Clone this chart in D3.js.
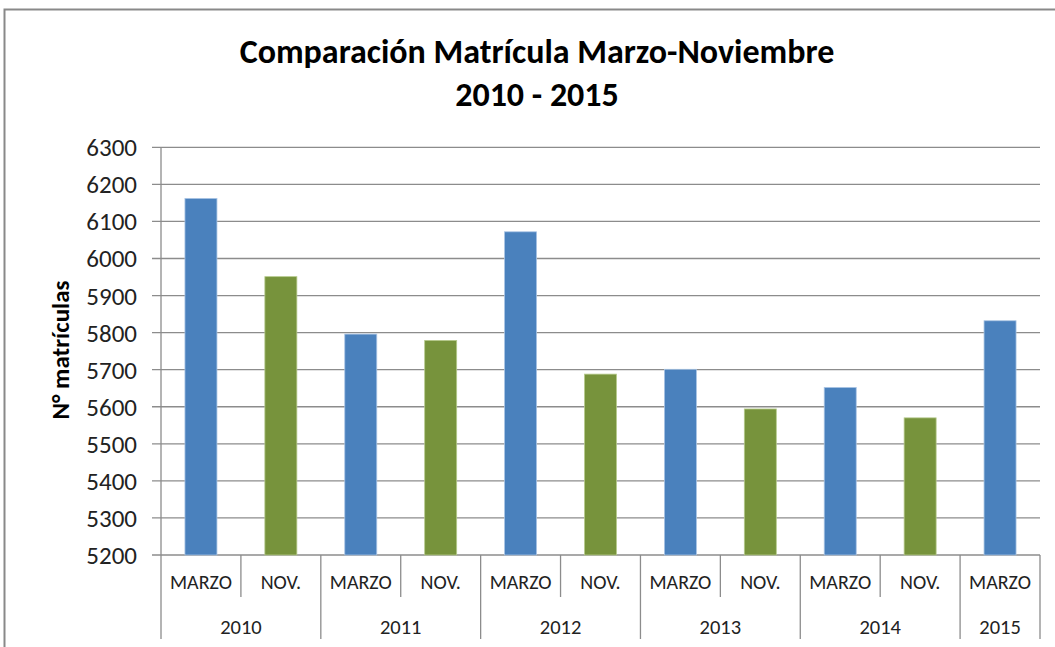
<!DOCTYPE html>
<html>
<head>
<meta charset="utf-8">
<script src="https://cdn.jsdelivr.net/npm/d3@7"></script>
<style>
  body { margin: 0; background: #fff; }
  text { font-family: Carlito, Lato, "Open Sans", sans-serif; }
</style>
</head>
<body>
<svg id="chart" width="1055" height="647"></svg>
<script>
// values
let years = ["2010", "2011", "2012", "2013", "2014", "2015"];
let months = ["MARZO", "NOV.", "MARZO", "NOV.", "MARZO", "NOV.", "MARZO", "NOV.", "MARZO", "NOV.", "MARZO"];
let yearOf = ["2010", "2010", "2011", "2011", "2012", "2012", "2013", "2013", "2014", "2014", "2015"];
let matriculas = [6162, 5951, 5796, 5779, 6072, 5688, 5701, 5594, 5652, 5570, 5832];
let yTicks = [5200, 5300, 5400, 5500, 5600, 5700, 5800, 5900, 6000, 6100, 6200, 6300];

let svg = d3.select("#chart");
let plotLeft = 161, plotRight = 1040, plotTop = 147.3, plotBottom = 555;

// frame
svg.append("rect")
    .attr("x", 4.5).attr("y", 9.5)
    .attr("width", 1060).attr("height", 700)
    .attr("fill", "none").attr("stroke", "#898989").attr("stroke-width", 2);

let x = d3.scaleBand().domain(d3.range(months.length)).range([plotLeft, plotRight]).paddingInner(0).paddingOuter(0);
let y = d3.scaleLinear().domain([5200, 6300]).range([plotBottom, plotTop]);

// gridlines
svg.append("g").selectAll("line")
    .data(yTicks).enter().append("line")
    .attr("x1", plotLeft - 9).attr("x2", plotRight)
    .attr("y1", d => y(d)).attr("y2", d => y(d))
    .attr("stroke", "#8c8c8c").attr("stroke-width", 1.3);

// y axis line
svg.append("line")
    .attr("x1", plotLeft).attr("x2", plotLeft)
    .attr("y1", plotTop).attr("y2", plotBottom)
    .attr("stroke", "#8c8c8c").attr("stroke-width", 1.3);

// y tick labels
svg.append("g").selectAll("text")
    .data(yTicks).enter().append("text")
    .attr("x", 137).attr("y", d => y(d))
    .attr("dy", "0.36em")
    .attr("text-anchor", "end")
    .attr("font-size", 25)
    .attr("fill", "#222")
    .text(d => d);

// bars
let bw = 32;
svg.append("g").selectAll("rect")
    .data(matriculas).enter().append("rect")
    .attr("x", (d, i) => x(i) + x.bandwidth() / 2 - bw / 2)
    .attr("y", d => y(d))
    .attr("width", bw)
    .attr("height", d => y(5200) - y(d))
    .attr("fill", (d, i) => months[i] == "MARZO" ? "#4a81bd" : "#77933c")
    .attr("stroke", (d, i) => months[i] == "MARZO" ? "#a9c4e4" : "#b6ca8c")
    .attr("stroke-width", 0.8);

// x axis: month labels
svg.append("g").selectAll("text")
    .data(months).enter().append("text")
    .attr("x", (d, i) => x(i) + x.bandwidth() / 2)
    .attr("y", 582)
    .attr("dy", "0.36em")
    .attr("text-anchor", "middle")
    .attr("font-size", 20)
    .attr("fill", "#222")
    .text(d => d);

// dividers between months (short) and years (long)
let divs = d3.range(months.length + 1);
svg.append("g").selectAll("line")
    .data(divs).enter().append("line")
    .attr("x1", i => i < months.length ? x(i) : plotRight)
    .attr("x2", i => i < months.length ? x(i) : plotRight)
    .attr("y1", plotBottom)
    .attr("y2", i => (i == 0 || i == months.length || yearOf[i] != yearOf[i - 1]) ? 639 : 597)
    .attr("stroke", "#8c8c8c").attr("stroke-width", 1.3);

// year labels
svg.append("g").selectAll("text")
    .data(years).enter().append("text")
    .attr("x", yr => {
        let idx = d3.range(months.length).filter(i => yearOf[i] == yr);
        return (x(idx[0]) + x(idx[idx.length - 1]) + x.bandwidth()) / 2;
    })
    .attr("y", 627)
    .attr("dy", "0.36em")
    .attr("text-anchor", "middle")
    .attr("font-size", 20.5)
    .attr("fill", "#222")
    .text(d => d);

// y axis title
svg.append("text")
    .attr("transform", "translate(69,350) rotate(-90)")
    .attr("text-anchor", "middle")
    .attr("font-size", 25)
    .attr("font-weight", "bold")
    .attr("fill", "#000")
    .text("N° matrículas");

// title
svg.append("text")
    .attr("x", 537).attr("y", 63)
    .attr("text-anchor", "middle")
    .attr("font-size", 34)
    .attr("font-weight", "bold")
    .text("Comparación Matrícula Marzo-Noviembre");
svg.append("text")
    .attr("x", 537).attr("y", 106)
    .attr("text-anchor", "middle")
    .attr("font-size", 34)
    .attr("font-weight", "bold")
    .text("2010 - 2015");
</script>
</body>
</html>
